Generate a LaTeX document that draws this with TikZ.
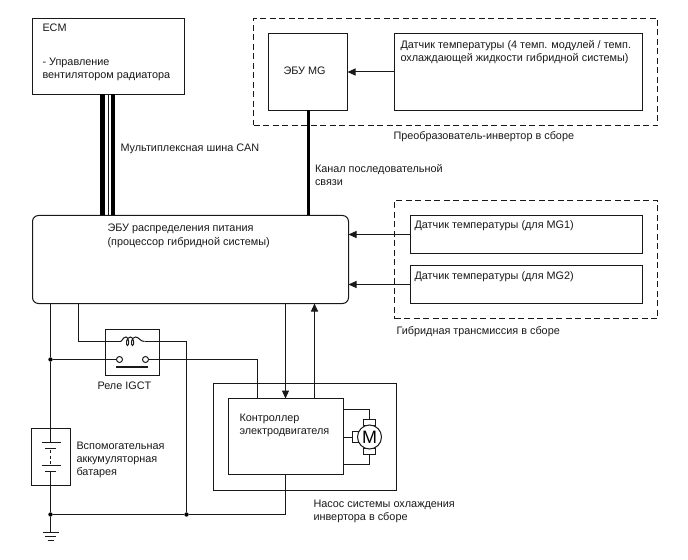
\documentclass[tikz,border=0pt]{standalone}
\usepackage{fontspec}
\setmainfont{Liberation Sans}
\usetikzlibrary{arrows.meta}
\definecolor{linecol}{gray}{0.1}
\tikzset{
  x=1bp,y=-1bp,
  box/.style={draw=linecol,line width=1bp,fill=white,inner sep=0pt,outer sep=0pt,anchor=north west},
  grp/.style={draw=linecol,line width=1bp,dash pattern=on 6bp off 3.5bp,inner sep=0pt,outer sep=0pt,anchor=north west},
  lbl/.style={inner sep=0pt,outer sep=0pt,anchor=base west,font=\fontsize{10.9}{13}\selectfont,align=left,text=black!90},
  wire/.style={draw=linecol,line width=1bp},
  bus/.style={draw=black,line width=4.4bp},
  arr/.style={wire,-{Triangle[length=8bp,width=7bp]}},
  dot/.style={circle,fill=black,inner sep=0pt,minimum size=4.4bp,outer sep=0pt},
  contact/.style={circle,draw=linecol,line width=1bp,fill=white,inner sep=0pt,minimum size=6bp,outer sep=0pt},
  motorc/.style={circle,draw=linecol,line width=1bp,fill=white,inner sep=0pt,minimum size=24bp,font=\fontsize{18}{18}\selectfont},
}
\begin{document}
\begin{tikzpicture}
\useasboundingbox (0,0) rectangle (688,560);
% groups
\node[grp,minimum width=404bp,minimum height=107bp] (invgrp) at (253.5,18.5) {};
\node[grp,minimum width=263bp,minimum height=118bp] (hvgrp) at (394.5,200.5) {};
\node[box,minimum width=183bp,minimum height=107bp] (pump) at (213.5,383.5) {};
% boxes
\node[box,minimum width=152bp,minimum height=76bp] (ecm) at (32.5,18.5) {};
\node[box,minimum width=79bp,minimum height=77bp] (mg) at (268.5,33.5) {};
\node[box,minimum width=248bp,minimum height=77bp] (ts) at (394.5,33.5) {};
\node[box,minimum width=232bp,minimum height=38bp] (ts1) at (410.5,215.5) {};
\node[box,minimum width=232bp,minimum height=38bp] (ts2) at (410.5,265.5) {};
\node[box,rounded corners=6bp,minimum width=316bp,minimum height=88bp] (ecu) at (32.5,215.5) {};
\node[box,minimum width=54bp,minimum height=46bp] (relay) at (105.5,329.5) {};
\node[box,minimum width=39bp,minimum height=57bp] (batt) at (31.5,428.5) {};
\node[box,minimum width=115bp,minimum height=76bp] (ctrl) at (228.5,398.5) {};
% named points
\coordinate (gnd) at (50.5,532.5);
\node[dot] (j1) at (50.5,359.5) {};
\node[dot] (j2) at (50.5,514.5) {};
\node[dot] (j3) at (186.5,514.5) {};
\node[contact] (c1) at (119.5,359.5) {};
\node[contact] (c2) at (145.5,359.5) {};
\coordinate (coilL) at (120.5,341.5);
\coordinate (coilR) at (144.5,341.5);
\node[box,minimum width=12bp,minimum height=6bp] (brT) at (363.5,419.5) {};
\node[box,minimum width=12bp,minimum height=6bp] (brB) at (363.5,448.5) {};
\node[box,minimum width=6bp,minimum height=11bp] (brL) at (352.5,431.5) {};
\node[motorc] (motor) at (369.5,437) {M};
% buses
\path[bus] (102.5,94.5) -- (102.5,215.5);
\path[bus] (113,94.5) -- (113,215.5);
\draw[wire] (108,94.5) -- (108,215.5);
\path[draw=black,line width=3bp] (308,110.5) -- (308,215.5);
% sensor arrows
\draw[arr] (ts.west) -- (mg.east |- ts.west);
\draw[arr] (ts1.west) -- (ecu.east |- ts1.west);
\draw[arr] (ts2.west) -- (ecu.east |- ts2.west);
% pump signals
\draw[arr] (285.5,303.5) -- (285.5,398.5);
\draw[arr] (314.5,398.5) -- (314.5,303.5);
% power
\draw[wire] (50.5,303.5) -- (j1) -- (50.5,442.5);
\draw[wire] (50.5,471.5) -- (j2) -- (gnd);
\draw[wire] (78.5,303.5) |- (coilL);
\draw[wire] (coilR) -| (j3);
\draw[wire] (j1) -- (c1);
\draw[wire] (c2) -| (257.5,398.5);
\draw[wire] (j2) -- (j3) -- (285.5,514.5) -- (285.5,474.5);
\draw[wire] (coilL) .. controls (122,341.5) and (123,337) .. (126,337)
  .. controls (129,337) and (129.5,345.5) .. (127.5,345.5) .. controls (125.5,345.5) and (126,337) .. (130.5,337)
  .. controls (134,337) and (134.5,345.5) .. (132.5,345.5) .. controls (130.5,345.5) and (131,337) .. (135.5,337)
  .. controls (139,337) and (140,341.5) .. (coilR);
\draw[draw=linecol,line width=2bp] (116,367) -- (148,367);
% battery
\draw[wire] (41.5,442.5) -- (60.5,442.5);
\draw[wire,line width=1.5bp] (45,448.5) -- (56,448.5);
\draw[wire,dash pattern=on 3bp off 2.5bp] (50.5,450) -- (50.5,465);
\draw[wire] (41.5,465.5) -- (60.5,465.5);
\draw[wire,line width=1.5bp] (45,471.5) -- (56,471.5);
% ground
\draw[wire] (42.5,532.5) -- (58.5,532.5);
\draw[wire] (45,536.5) -- (56,536.5);
\draw[wire] (47.5,540.5) -- (53.5,540.5);
% motor wiring
\draw[wire] (ctrl.east |- 0,409.5) -| (brT.north);
\draw[wire] (ctrl.east |- 0,464.5) -| (brB.south);
\draw[wire] (ctrl.east |- brL.west) -- (brL.west);
% labels
\node[lbl] (t1) at (42.5,32) {ECM};
\node[lbl] (t2) at (42.5,65.5) {- Управление};
\node[lbl] (t3) at (42.5,78.5) {вентилятором радиатора};
\node[lbl] (t4) at (120.5,151.5) {Мультиплексная шина CAN};
\node[lbl] (t5) at (283.5,74.5) {ЭБУ MG};
\node[lbl] (t6) at (400.5,49) {Датчик температуры (4 темп. модулей / темп.};
\node[lbl] (t7) at (400.5,62) {охлаждающей жидкости гибридной системы)};
\node[lbl] (t8) at (393.5,140) {Преобразователь-инвертор в сборе};
\node[lbl] (t9) at (315,173) {Канал последовательной};
\node[lbl] (t10) at (315,186) {связи};
\node[lbl] (t11) at (107.5,232) {ЭБУ распределения питания};
\node[lbl] (t12) at (107.5,246) {(процессор гибридной системы)};
\node[lbl] (t13) at (414.5,229) {Датчик температуры (для MG1)};
\node[lbl] (t14) at (414.5,279) {Датчик температуры (для MG2)};
\node[lbl] (t15) at (396.5,334) {Гибридная трансмиссия в сборе};
\node[lbl] (t16) at (97.5,389) {Реле IGCT};
\node[lbl] (t17) at (76.5,449) {Вспомогательная};
\node[lbl] (t18) at (76.5,462) {аккумуляторная};
\node[lbl] (t19) at (76.5,475) {батарея};
\node[lbl] (t20) at (239.5,421) {Контроллер};
\node[lbl] (t21) at (239.5,434) {электродвигателя};
\node[lbl] (t22) at (313.5,507) {Насос системы охлаждения};
\node[lbl] (t23) at (313.5,520) {инвертора в сборе};
\end{tikzpicture}
\end{document}
